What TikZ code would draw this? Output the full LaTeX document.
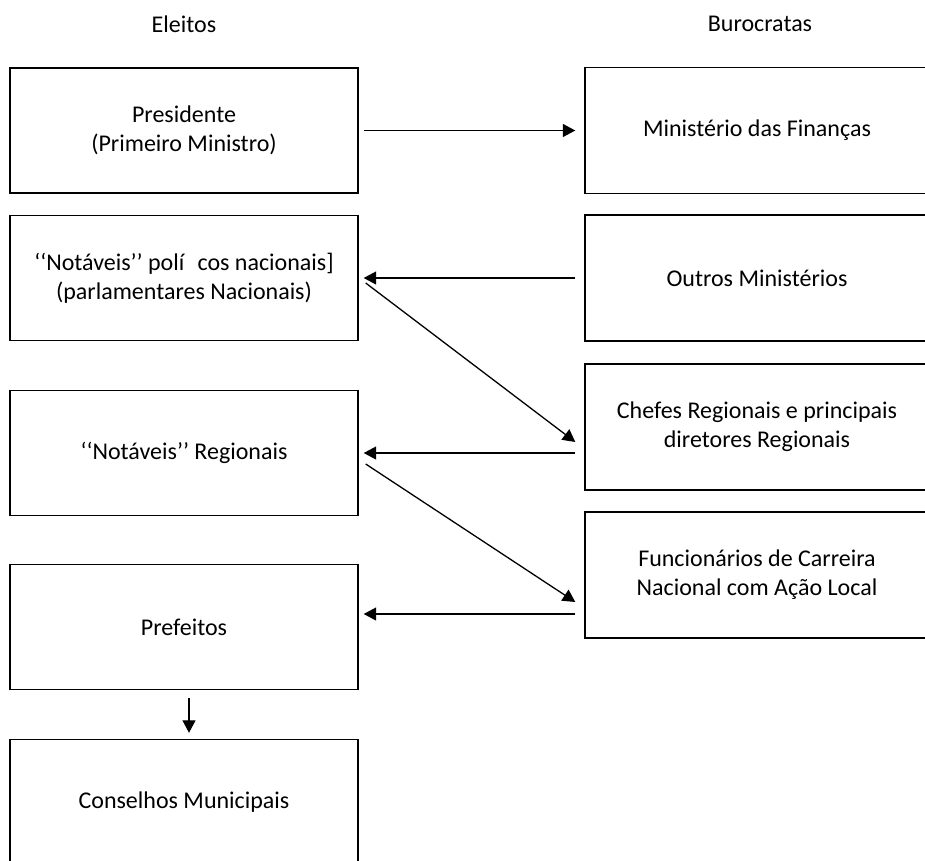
\documentclass[tikz,border=0pt]{standalone}
\usepackage{fontspec}
\setmainfont{Carlito}
\usepackage{tikz}
\usetikzlibrary{arrows.meta, positioning}

\tikzset{
  caixa/.style={draw=black, line width=1.4pt, minimum width=348pt, minimum height=125pt,
    inner sep=0pt, align=center, font=\fontsize{24}{29}\selectfont},
  caixadir/.style={caixa, minimum width=344pt, minimum height=126pt},
  titulo/.style={font=\fontsize{24}{29}\selectfont},
  seta/.style={line width=1.3pt, -{Triangle[length=12.5pt,width=13pt]}}
}

\begin{document}
\begin{tikzpicture}[x=1pt,y=-1pt]
    \useasboundingbox (0,0) rectangle (925,860);
    \clip (0,0) rectangle (925,860);
    % column titles
    \node[titulo] (eleitos) at (184,24) {Eleitos};
    \node[titulo] (burocratas) at (760,24) {Burocratas};
    % elected column
    \node[caixa] (pres) at (184,130.5) {Presidente\\(Primeiro Ministro)};
    \node[caixa] (notnac) at (184,278) {‘‘Notáveis’’ polí\hspace{0.55em}cos nacionais]\\(parlamentares Nacionais)};
    \node[caixa] (notreg) at (184,453) {‘‘Notáveis’’ Regionais};
    \node[caixa] (pref) at (184,627) {Prefeitos};
    \node[caixa] (cons) at (184,802) {Conselhos Municipais};
    % bureaucrats column
    \node[caixadir] (fin) at (757,130.5) {Ministério das Finanças};
    \node[caixadir] (outros) at (757,278) {Outros Ministérios};
    \node[caixadir] (chefes) at (757,427) {Chefes Regionais e principais\\diretores Regionais};
    \node[caixadir] (func) at (757,575) {Funcionários de Carreira\\Nacional com Ação Local};
    % connectors
    \draw[seta] ([xshift=5pt]pres.east) -- ([xshift=-9pt]fin.west);
    \draw[seta] ([xshift=-9pt]outros.west) -- ([xshift=5pt]notnac.east);
    \draw[seta] ([shift={(7,5)}]notnac.east) -- ([shift={(-9,15)}]chefes.west);
    \draw[seta, shorten <=9pt, shorten >=5pt] (chefes.west |- notreg.east) -- (notreg.east);
    \draw[seta] ([shift={(7,11)}]notreg.east) -- ([shift={(-9,27)}]func.west);
    \draw[seta] ([shift={(-9,39)}]func.west) -- ([shift={(5,-13)}]pref.east);
    \draw[seta] ([shift={(5,8)}]pref.south) -- ([shift={(5,-6)}]cons.north);
\end{tikzpicture}
\end{document}
